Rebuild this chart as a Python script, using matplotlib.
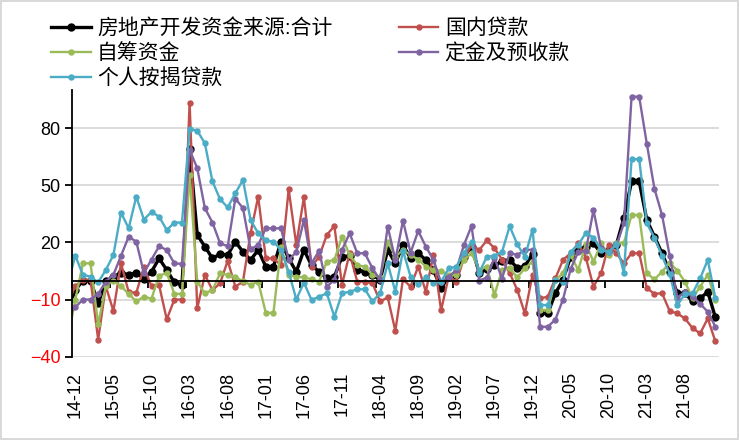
import numpy as np
import matplotlib.pyplot as plt

plt.rcParams['font.family'] = ['Liberation Sans', 'Noto Sans CJK SC', 'DejaVu Sans']

# monthly points 14-11 .. 21-12 (14-11 lies left of the axis and is clipped)
x_idx = np.arange(-1, 85)

tick_pos = list(range(0, 81, 5))
tick_labels = ['14-12', '15-05', '15-10', '16-03', '16-08', '17-01', '17-06', '17-11',
               '18-04', '18-09', '19-02', '19-07', '19-12', '20-05', '20-10', '21-03', '21-08']

total = [-15.4,
         -5, 0, 0, -12, -0.5, 2, 4, 3, 4, 1,
         4.6, 11.6, 5.5, -1, -2.3, 69, 24, 17.8, 11.6, 13.9,
         13.4, 20.4, 15, 10.8, 16, 7.3, 7.3, 20.4, 11.6, 4.6,
         16, 8, 4.6, 1.1, 2, 12.5, 12.9, 5.5, 4.6, 2.9,
         0.5, 16, 9, 18.7, 11.6, 14.3, 10.8, 5.5, -4.1, 2,
         2.9, 12.5, 17.8, 4, 6, 8, 10, 11, 6.5, 7.5,
         14, -17.3, -17.3, -6.7, 0.3, 12.5, 16, 17.8, 19.5, 14.3,
         16, 18.7, 33, 52, 52, 31.8, 23, 14.3, 4.6, -6.7,
         -6.7, -11, -9.4, -5.9, -19.4]

domestic_loan = [-12,
                 -3, 0.3, 0.3, -31, -3, -16, 9, -6, -6.5, 7,
                 -3, -2.5, -20.4, -10, -10, 93.4, -14.6, 2.9, -5, -1.5,
                 10.4, -3.2, -0.6, 24.8, 44, 11.6, 11.6, 8, 47.9, 18.7,
                 43.7, 7.3, 12.5, 23.9, 28.6, -2.3, 14.3, -0.6, -0.6, -1.5,
                 -11, -8.9, -26.4, 0.6, -3.2, 7.3, -5.9, 13.4, -15.6, 2,
                 -0.6, 11.6, 18.7, 16, 21, 17, 11, 4, -5, -17.3,
                 3, -9.4, -8.5, 1.1, 10.8, 14.3, 19.5, 12, -3.2, 3.8,
                 18.7, 14.3, 9, 14.3, 14.3, -4, -7, -6.7, -16, -17.3,
                 -19.9, -25, -27.8, -19.9, -32]

self_raised = [-31,
               -10, 9, 9, -23, -3, 0, -3, -7, -11, -8.5,
               -9.5, 2.5, 4, -7, -7, 55.4, -0.6, -6.7, -5, 3.8,
               2.9, 2, -0.5, -2.3, -0.6, -17, -17, 17.8, 2.9, 2,
               1.7, 0.6, -0.6, 9.9, 10.8, 23, 13.4, 8.1, 7.3, 2.9,
               1.7, 20.4, 12.5, 16, 13.4, 11, 7.3, 5.5, 5, 2.9,
               2.9, 10.8, 14.3, 5.5, 7.3, -7.6, 5.5, 6.4, 1.7, 6.4,
               9.9, -15.5, -15.5, 0.3, 3.8, 13.4, 5.5, 19.2, 9.9, 19.5,
               13.4, 19.8, 19.8, 34.4, 34.4, 3.8, 0.6, 4.6, 9.4, 5.2,
               -0.6, -9.4, -3.2, 2.9, -10.2]

deposits = [-19,
            -14, -10, -10, -7, -0.6, 3, 13, 23, 20.4, 4,
            11, 18, 16, 9, 8.7, 68.5, 59, 38, 30.4, 19.5,
            18, 43, 38, 16.4, 18.7, 27.4, 27.4, 27.4, 10.8, 15,
            31.8, 9, 15.7, -3.2, 0.3, 16, 24.8, 14.3, 14.3, 6.4,
            0.3, 28.3, 10.8, 31.4, 14.6, 26, 17.8, 10.8, -1, 2,
            5.5, 18.7, 28.6, 0, 1.5, 12, 1, 14.5, 13.4, 16,
            16.2, -24.3, -24.3, -20.5, -10, 6, 15, 15.5, 37, 17,
            15, 18.5, 30, 96.5, 96.5, 71.8, 48.2, 34.4, 13, -9,
            -6, -8.5, -12.3, -16.4, -24.3]

mortgage = [-2,
            13, 3, 2, -1, 5.5, 13.4, 35.6, 27.4, 44, 32,
            36, 33.5, 26.5, 30.4, 30.4, 79.4, 78.7, 72, 52, 42.6,
            38.4, 45.8, 52.8, 31.8, 24.8, 21, 20.4, 16, 4.6, -9.9,
            -1.1, -10.2, -8.5, -6.7, -19, -6.7, -5.9, -4.6, -4.6, -11,
            -6.7, 9, -5.9, 15.7, 2, -2, 1.6, -1.1, -0.6, 6.4,
            7.3, 14.3, 20.4, 4, 12.5, 13, 15, 28.5, 19, 12.5,
            26.7, -12.9, -12.9, 0.3, -0.8, 15, 18.7, 25, 22.5, 16,
            15, 19, 4, 63.7, 63.7, 30, 22.5, 13, 3.6, -13,
            -7, -6.7, 1.1, 10.8, -9.4]

series = [
    ('房地产开发资金来源:合计', total, '#000000', 2.4, 5.0),
    ('国内贷款', domestic_loan, '#C0504D', 1.7, 3.6),
    ('自筹资金', self_raised, '#9BBB59', 1.7, 3.6),
    ('定金及预收款', deposits, '#8064A2', 1.7, 3.6),
    ('个人按揭贷款', mortgage, '#4BACC6', 1.7, 3.6),
]

fig = plt.figure(figsize=(7.39, 4.40), dpi=100)
fig.patch.set_edgecolor('#d9d9d9')
fig.patch.set_linewidth(1.5)
ax = fig.add_axes([71.5 / 739, 1 - 356.7 / 440, (719.2 - 71.5) / 739, (356.7 - 90) / 440])

lines = {}
for name, vals, color, lw, ms in series:
    ln, = ax.plot(x_idx, vals, color=color, lw=lw, marker='o', ms=ms, label=name)
    lines[name] = ln

ax.set_xlim(-0.5, 84.5)
ax.set_ylim(-40, 100)
ax.set_yticks([-40, -10, 20, 50, 80])
ax.grid(axis='y', color='#d9d9d9', lw=1.3)
ax.set_axisbelow(True)

for s in ['top', 'right']:
    ax.spines[s].set_visible(False)
ax.spines['left'].set_linewidth(1.3)
ax.spines['bottom'].set_position(('data', 0))
ax.spines['bottom'].set_linewidth(1.3)
ax.set_xticks(np.arange(-0.5, 85, 5))
ax.tick_params(axis='x', direction='out', length=5, width=1.3, labelbottom=False)
ax.tick_params(axis='y', direction='out', length=5, width=1.3, labelsize=13, pad=3)
for lab, v in zip(ax.get_yticklabels(), ax.get_yticks()):
    lab.set_color('red' if v < 0 else 'black')

sec = ax.secondary_xaxis('bottom')
sec.set_xticks(tick_pos)
sec.set_xticklabels(tick_labels, rotation=90, fontsize=13)
sec.tick_params(length=0, pad=11)
sec.spines['bottom'].set_visible(False)

order = ['房地产开发资金来源:合计', '自筹资金', '个人按揭贷款', '国内贷款', '定金及预收款']
fig.legend([lines[n] for n in order], order, loc='upper left',
           bbox_to_anchor=(51 / 739, 1 - 18 / 440), ncol=2, frameon=False,
           fontsize=15, borderpad=0, borderaxespad=0, handlelength=1.9,
           handletextpad=0.3, labelspacing=0.25, columnspacing=3.2)

fig.savefig('out.png', dpi=100)
